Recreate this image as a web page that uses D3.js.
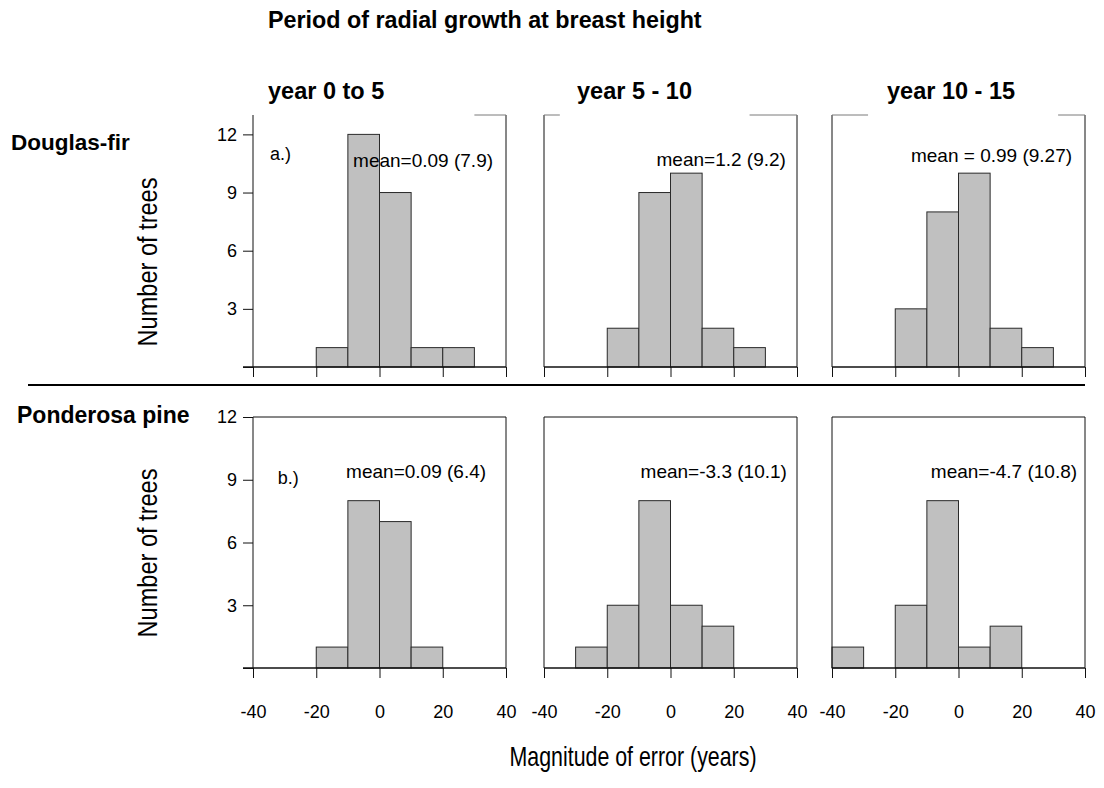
<!DOCTYPE html>
<html>
<head>
<meta charset="utf-8">
<script src="https://cdn.jsdelivr.net/npm/d3@7"></script>
<style>
  html, body { margin: 0; padding: 0; background: #fff; }
  svg { display: block; font-family: "Liberation Sans", Arial, Helvetica, sans-serif; }
</style>
</head>
<body>
<svg id="chart" width="1104" height="788"></svg>
<script>
// ---- data -------------------------------------------------------------
// Error bins (years), 10-year wide classes from -40 to 40
const binEdges = [-40, -30, -20, -10, 0, 10, 20, 30, 40];

// Number of trees per error class, one array per species and period
const douglasFir0to5    = [0, 0, 1, 12, 9, 1, 1, 0];
const douglasFir5to10   = [0, 0, 2, 9, 10, 2, 1, 0];
const douglasFir10to15  = [0, 0, 3, 8, 10, 2, 1, 0];
const ponderosa0to5     = [0, 0, 1, 8, 7, 1, 0, 0];
const ponderosa5to10    = [0, 1, 3, 8, 3, 2, 0, 0];
const ponderosa10to15   = [1, 0, 3, 8, 1, 2, 0, 0];

const periods   = ["year 0 to 5", "year 5 - 10", "year 10 - 15"];
const species   = ["Douglas-fir", "Ponderosa pine"];
const meanTexts = [
  ["mean=0.09 (7.9)", "mean=1.2 (9.2)", "mean = 0.99 (9.27)"],
  ["mean=0.09 (6.4)", "mean=-3.3 (10.1)", "mean=-4.7 (10.8)"]
];
const panelTags  = ["a.)", "b.)"];
const xTicks     = [-40, -20, 0, 20, 40];
const yTicks     = [0, 3, 6, 9, 12];
const yTickNames = ["", "3", "6", "9", "12"];

const seriesGrid = [
  [douglasFir0to5, douglasFir5to10, douglasFir10to15],
  [ponderosa0to5, ponderosa5to10, ponderosa10to15]
];

// ---- layout -----------------------------------------------------------
const colLeft = [253, 544, 832];
const panelW = 253;
const rowsGeom = [
  { top: 115, base: 367, ymax: 13, fullTop: false },
  { top: 417, base: 668, ymax: 12, fullTop: true }
];
const tickLen = 10;

// label anchors in data units: [x value at text end, count at baseline]
const meanSpots = [
  [[35.9, 10.3], [36.5, 10.37], [35.9, 10.56]],
  [[33.7, 9.07], [36.8, 9.07], [37.5, 9.07]]
];
const tagSpots = [[-34.6, 10.7], [-32.2, 8.8]];
// stretches of the upper frame line in the top row left clear of the heading boxes
const topFrameStretches = [[[30, 40]], [[-40, -35], [25, 40]], [[-40, -28.6], [31.5, 40]]];

const svg = d3.select("#chart");
svg.append("rect").attr("width", 1104).attr("height", 788).attr("fill", "#fff");

rowsGeom.forEach((rg, r) => {
  const y = d3.scaleLinear().domain([0, rg.ymax]).range([rg.base, rg.top]);
  const bins = d3.range(binEdges.length - 1);

  colLeft.forEach((left, c) => {
    const x = d3.scaleLinear().domain([-40, 40]).range([left, left + panelW]);
    const counts = seriesGrid[r][c];
    const g = svg.append("g");

    // histogram bars
    g.selectAll("rect.bar")
      .data(bins.filter(i => counts[i] > 0))
      .join("rect")
      .attr("class", "bar")
      .attr("x", i => x(binEdges[i]))
      .attr("y", i => y(counts[i]))
      .attr("width", i => x(binEdges[i + 1]) - x(binEdges[i]))
      .attr("height", i => y(0) - y(counts[i]))
      .attr("fill", "#c0c0c0")
      .attr("stroke", "#2a2a2a")
      .attr("stroke-width", 1);

    // frame: left, right, top
    g.append("line")
      .attr("x1", x(-40)).attr("x2", x(-40))
      .attr("y1", y(rg.ymax)).attr("y2", y(0))
      .attr("stroke", "#111").attr("stroke-width", 1);
    g.append("line")
      .attr("x1", x(40)).attr("x2", x(40))
      .attr("y1", y(rg.ymax)).attr("y2", y(0))
      .attr("stroke", "#111").attr("stroke-width", 1);
    if (rg.fullTop) {
      g.append("line")
        .attr("x1", x(-40)).attr("x2", x(40))
        .attr("y1", y(rg.ymax)).attr("y2", y(rg.ymax))
        .attr("stroke", "#111").attr("stroke-width", 1);
    } else {
      topFrameStretches[c].forEach(s => {
        g.append("line")
          .attr("x1", x(s[0])).attr("x2", x(s[1]))
          .attr("y1", y(rg.ymax)).attr("y2", y(rg.ymax))
          .attr("stroke", "#7a7a7a").attr("stroke-width", 1);
      });
    }

    // x axis along the zero count
    const xAxis = d3.axisBottom(x)
      .tickValues(xTicks)
      .tickSize(tickLen)
      .tickPadding(27)
      .tickFormat(d => (r === 1 ? (d < 0 ? "-" + Math.abs(d) : String(d)) : ""));
    const xa = g.append("g")
      .attr("transform", `translate(0,${y(0)})`)
      .call(xAxis);
    xa.select(".domain").remove();
    xa.selectAll(".tick line").attr("stroke", "#111");
    xa.selectAll("text")
      .attr("fill", "#000")
      .attr("font-size", 18)
      .attr("font-family", "Liberation Sans, Arial, sans-serif");

    g.append("line")
      .attr("x1", c === 0 ? x(-40) - tickLen : x(-40)).attr("x2", x(40))
      .attr("y1", y(0)).attr("y2", y(0))
      .attr("stroke", "#111").attr("stroke-width", 1.4);

    // y axis on the first column only
    if (c === 0) {
      const yAxis = d3.axisLeft(y)
        .tickValues(yTicks)
        .tickSize(tickLen)
        .tickPadding(6)
        .tickFormat((d, i) => yTickNames[i]);
      const ya = g.append("g")
        .attr("transform", `translate(${x(-40)},0)`)
        .call(yAxis);
      ya.select(".domain").remove();
      ya.selectAll(".tick line").attr("stroke", "#111");
      ya.selectAll("text")
        .attr("fill", "#000")
        .attr("font-size", 18)
        .attr("font-family", "Liberation Sans, Arial, sans-serif");

      g.append("text")
        .attr("x", x(tagSpots[r][0]))
        .attr("y", y(tagSpots[r][1]))
        .attr("font-size", 18)
        .attr("fill", "#000")
        .text(panelTags[r]);
    }

    // mean (sd) annotation
    g.append("text")
      .attr("x", x(meanSpots[r][c][0]))
      .attr("y", y(meanSpots[r][c][1]))
      .attr("text-anchor", "end")
      .attr("font-size", 19)
      .attr("fill", "#000")
      .text(meanTexts[r][c]);
  });
});

// column headings
const headX = [268, 577, 887];
periods.forEach((p, i) => {
  svg.append("text")
    .attr("x", headX[i]).attr("y", 99)
    .attr("font-size", 23.5).attr("font-weight", "bold")
    .attr("fill", "#000")
    .text(p);
});

// species labels
svg.append("text").attr("x", 11).attr("y", 150)
  .attr("font-size", 22.5).attr("font-weight", "bold").attr("fill", "#000")
  .text(species[0]);
svg.append("text").attr("x", 17).attr("y", 423)
  .attr("font-size", 23).attr("font-weight", "bold").attr("fill", "#000")
  .text(species[1]);

// separator between the two species
svg.append("line")
  .attr("x1", 28).attr("x2", 1085)
  .attr("y1", 385).attr("y2", 385)
  .attr("stroke", "#000").attr("stroke-width", 2);

// y axis titles, set in a condensed face
[[157, 262], [157, 553]].forEach(([tx, ty]) => {
  svg.append("text")
    .attr("transform", `translate(${tx},${ty}) rotate(-90)`)
    .attr("text-anchor", "middle")
    .attr("font-size", 27)
    .attr("textLength", 169)
    .attr("lengthAdjust", "spacingAndGlyphs")
    .attr("fill", "#000")
    .text("Number of trees");
});

// overall heading
svg.append("text")
  .attr("x", 268).attr("y", 28)
  .attr("font-size", 23.3).attr("font-weight", "bold").attr("fill", "#000")
  .text("Period of radial growth at breast height");

// x axis title, condensed
svg.append("text")
  .attr("x", 633).attr("y", 766)
  .attr("text-anchor", "middle")
  .attr("font-size", 28)
  .attr("textLength", 247)
  .attr("lengthAdjust", "spacingAndGlyphs")
  .attr("fill", "#000")
  .text("Magnitude of error (years)");
</script>
</body>
</html>
